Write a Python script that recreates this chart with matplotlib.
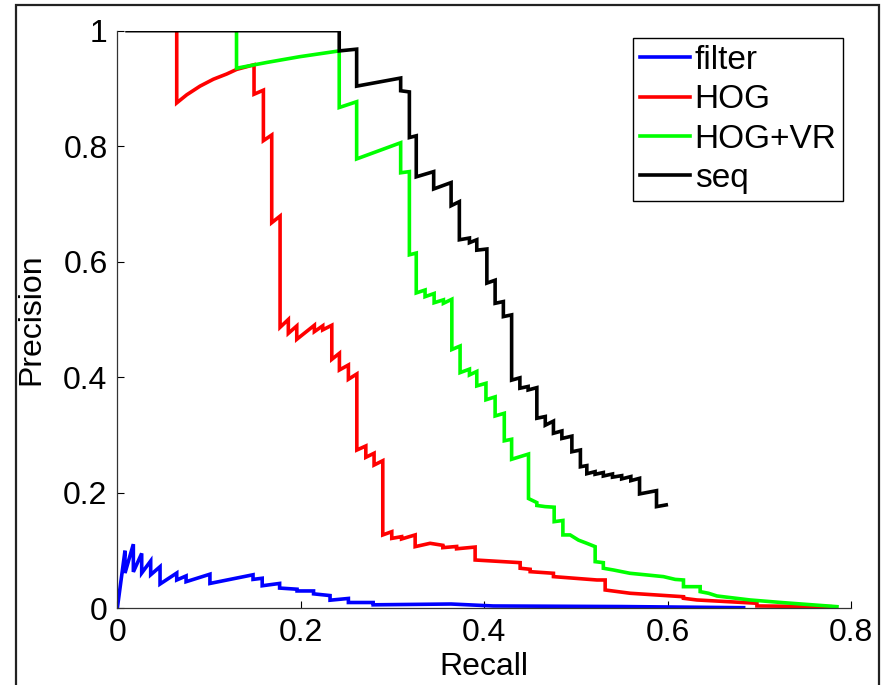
import matplotlib
matplotlib.use("Agg")
import matplotlib.pyplot as plt
from matplotlib.patches import Rectangle

plt.rcParams['font.family'] = ['Liberation Sans', 'DejaVu Sans']

# precision / recall curves, (recall, precision) vertices
filter_pr = [(0.0, 0.0), (0.0084, 0.0997), (0.0084, 0.061), (0.0175, 0.111), (0.0175, 0.063),
             (0.0266, 0.095), (0.0266, 0.061), (0.0364, 0.082), (0.0364, 0.058), (0.0466, 0.072),
             (0.0466, 0.042), (0.0648, 0.061), (0.0648, 0.049), (0.075, 0.056), (0.075, 0.046),
             (0.101, 0.059), (0.101, 0.043), (0.148, 0.058), (0.148, 0.050), (0.158, 0.052),
             (0.158, 0.039), (0.177, 0.043), (0.177, 0.035), (0.196, 0.033), (0.196, 0.030),
             (0.214, 0.030), (0.214, 0.025), (0.232, 0.022), (0.232, 0.014), (0.252, 0.017),
             (0.252, 0.010), (0.279, 0.010), (0.279, 0.006), (0.364, 0.0074), (0.41, 0.004),
             (0.55, 0.003), (0.683, 0.001)]

hog_pr = [(0.0648, 1.0), (0.0648, 0.875), (0.0757, 0.889), (0.0902, 0.904), (0.1048, 0.916),
          (0.1193, 0.925), (0.1302, 0.933), (0.1491, 0.941), (0.1491, 0.890), (0.1593, 0.897),
          (0.1593, 0.8096), (0.1684, 0.8194), (0.1684, 0.6676), (0.1775, 0.679), (0.1775, 0.4865),
          (0.1865, 0.500), (0.1865, 0.476), (0.1957, 0.4888), (0.1957, 0.4657), (0.2149, 0.490),
          (0.2149, 0.479), (0.224, 0.489), (0.224, 0.482), (0.2339, 0.490), (0.2339, 0.431),
          (0.2422, 0.4415), (0.2422, 0.4126), (0.252, 0.4212), (0.252, 0.3965), (0.2612, 0.4057),
          (0.2612, 0.274), (0.271, 0.281), (0.271, 0.2614), (0.280, 0.2684), (0.280, 0.248),
          (0.2895, 0.2555), (0.2895, 0.127), (0.2993, 0.1326), (0.2993, 0.121), (0.310, 0.124),
          (0.310, 0.120), (0.3248, 0.127), (0.3248, 0.1067), (0.3411, 0.1125), (0.355, 0.109),
          (0.355, 0.105), (0.370, 0.107), (0.370, 0.103), (0.3902, 0.106), (0.3902, 0.0836),
          (0.4393, 0.079), (0.4393, 0.0693), (0.4502, 0.0675), (0.4502, 0.0634), (0.4756, 0.0606),
          (0.4756, 0.0548), (0.523, 0.049), (0.532, 0.049), (0.532, 0.0317), (0.5593, 0.026),
          (0.6174, 0.020), (0.6174, 0.0173), (0.632, 0.0144), (0.6975, 0.0087), (0.6975, 0.004),
          (0.7775, 0.0028)]

hogvr_pr = [(0.130, 1.0), (0.130, 0.935), (0.163, 0.945), (0.199, 0.955), (0.242, 0.965),
            (0.242, 0.867), (0.261, 0.877), (0.261, 0.778), (0.309, 0.806), (0.309, 0.754),
            (0.3185, 0.756), (0.3185, 0.612), (0.326, 0.615), (0.326, 0.546), (0.3356, 0.551),
            (0.3356, 0.5395), (0.3455, 0.545), (0.3455, 0.529), (0.3556, 0.534), (0.3556, 0.528),
            (0.3648, 0.535), (0.3648, 0.448), (0.3738, 0.454), (0.3738, 0.408), (0.384, 0.414),
            (0.384, 0.404), (0.392, 0.410), (0.392, 0.385), (0.402, 0.3895), (0.402, 0.361),
            (0.412, 0.366), (0.412, 0.333), (0.422, 0.3376), (0.422, 0.290), (0.430, 0.2926),
            (0.430, 0.258), (0.4484, 0.267), (0.4484, 0.190), (0.4575, 0.183), (0.4575, 0.178),
            (0.4666, 0.176), (0.4764, 0.175), (0.4764, 0.150), (0.4859, 0.152), (0.4859, 0.127),
            (0.4938, 0.127), (0.5029, 0.118), (0.512, 0.1125), (0.5211, 0.1067), (0.5211, 0.0807),
            (0.530, 0.079), (0.530, 0.0693), (0.541, 0.0663), (0.559, 0.0606), (0.5775, 0.0577),
            (0.5956, 0.0548), (0.6084, 0.050), (0.6174, 0.049), (0.6174, 0.0374), (0.6356, 0.0374),
            (0.6356, 0.0288), (0.6447, 0.026), (0.6539, 0.0213), (0.690, 0.0144), (0.7265, 0.0097),
            (0.7848, 0.0028)]

seq_pr = [(0.0106, 1.0), (0.242, 1.0), (0.242, 0.965), (0.261, 0.968), (0.261, 0.904),
          (0.309, 0.918), (0.309, 0.896), (0.3185, 0.894), (0.3185, 0.815), (0.326, 0.818),
          (0.326, 0.747), (0.345, 0.756), (0.345, 0.726), (0.364, 0.737), (0.364, 0.697),
          (0.373, 0.704), (0.373, 0.638), (0.384, 0.641), (0.384, 0.633), (0.392, 0.638),
          (0.392, 0.620), (0.403, 0.622), (0.403, 0.563), (0.412, 0.568), (0.412, 0.528),
          (0.421, 0.531), (0.421, 0.505), (0.430, 0.508), (0.430, 0.395), (0.439, 0.399),
          (0.439, 0.381), (0.448, 0.384), (0.448, 0.378), (0.4575, 0.382), (0.4575, 0.329),
          (0.4667, 0.332), (0.4667, 0.317), (0.4756, 0.324), (0.4756, 0.303), (0.4848, 0.307),
          (0.4848, 0.294), (0.4957, 0.298), (0.4957, 0.271), (0.505, 0.274), (0.505, 0.245),
          (0.512, 0.247), (0.512, 0.233), (0.521, 0.2365), (0.521, 0.232), (0.530, 0.235),
          (0.530, 0.229), (0.540, 0.2325), (0.540, 0.227), (0.550, 0.2296), (0.550, 0.224),
          (0.560, 0.228), (0.560, 0.221), (0.5695, 0.225), (0.5695, 0.198), (0.588, 0.2036),
          (0.588, 0.176), (0.5986, 0.179)]

series_names = ['filter', 'HOG', 'HOG+VR', 'seq']
series_data = [filter_pr, hog_pr, hogvr_pr, seq_pr]
series_colors = ['#0000ff', '#ff0000', '#00ff00', '#000000']

x_ticks = [0, 0.2, 0.4, 0.6, 0.8]
x_tick_labels = ['0', '0.2', '0.4', '0.6', '0.8']
y_ticks = [0, 0.2, 0.4, 0.6, 0.8, 1.0]
y_tick_labels = ['0', '0.2', '0.4', '0.6', '0.8', '1']

fig = plt.figure(figsize=(8.86, 6.85), dpi=100)
ax = fig.add_axes([0.1324, 0.112, 0.828, 0.8432])

for name, pts, col in zip(series_names, series_data, series_colors):
    r, p = zip(*pts)
    ax.plot(r, p, color=col, lw=2.6, label=name, solid_joinstyle='miter')

ax.set_xlim(0, 0.8)
ax.set_ylim(0, 1)
ax.set_xticks(x_ticks)
ax.set_xticklabels(x_tick_labels)
ax.set_yticks(y_ticks)
ax.set_yticklabels(y_tick_labels)
ax.tick_params(direction='in', length=5, width=0.8, labelsize=23, pad=7)
for s in ['top', 'right']:
    ax.spines[s].set_visible(False)
for s in ['left', 'bottom']:
    ax.spines[s].set_color('#333333')
    ax.spines[s].set_linewidth(0.9)

ax.set_xlabel('Recall', fontsize=23, labelpad=3)
ax.set_ylabel('Precision', fontsize=23, labelpad=12)

leg = ax.legend(loc='upper right', bbox_to_anchor=(0.9895, 0.987), fontsize=24,
                handlelength=1.5, handletextpad=0.15, labelspacing=0.25,
                borderpad=0.2, borderaxespad=0, fancybox=False, framealpha=1)
leg.get_frame().set_edgecolor('black')
leg.get_frame().set_linewidth(1.0)

# outer frame around the figure (bottom edge runs off the image)
fig.add_artist(Rectangle((16 / 886, -0.05), (879 - 16) / 886, 1.05 - 5 / 685,
                         transform=fig.transFigure, fill=False, ec='#222222', lw=1.6))

fig.savefig('out.png', dpi=100)
